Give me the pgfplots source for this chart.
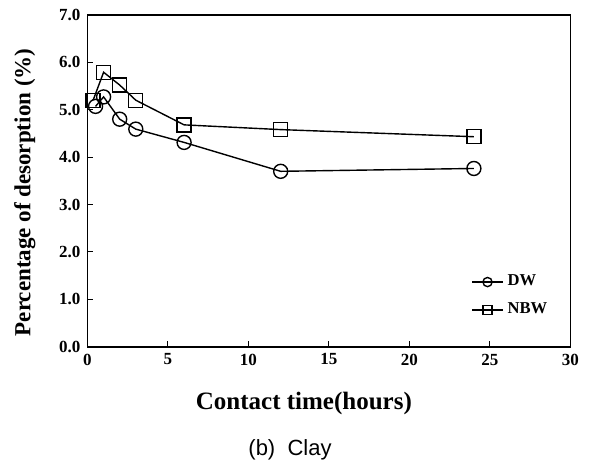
\documentclass[border=0pt]{standalone}
\usepackage{fontspec}
\setmainfont{Liberation Serif}
\setsansfont{Liberation Sans}
\usepackage{pgfplots}
\pgfplotsset{compat=1.18}

\begin{document}
\begin{tikzpicture}
\begin{axis}[
    scale only axis,
    width=241.5pt, height=165.9pt,
    xmin=0, xmax=30, ymin=0, ymax=7,
    xtick={0,5,...,30},
    ytick={0,1,...,7},
    tick align=inside,
    xtick pos=left, ytick pos=left,
    major tick length=3pt,
    axis line style={line width=0.9pt},
    tick style={line width=0.5pt, black},
    ticklabel style={font=\fontsize{8.5pt}{10pt}\selectfont\bfseries},
    /pgf/number format/assume math mode=true,
    yticklabel style={/pgf/number format/.cd, fixed, fixed zerofill, precision=1},
    xticklabel style={/pgf/number format/.cd, fixed, precision=0},
    xlabel={Contact time(hours)},
    ylabel={Percentage of desorption (\%)},
    every axis x label/.style={at={(rel axis cs:0.448,-0.172)}, anchor=center,
        font=\fontsize{12.5pt}{14pt}\selectfont\bfseries},
    every axis y label/.style={at={(rel axis cs:-0.13,0.465)}, anchor=center, rotate=90,
        font=\fontsize{11.5pt}{14pt}\selectfont\bfseries},
    legend style={at={(rel axis cs:0.79,0.235)}, anchor=north west, draw=none, fill=none,
        font=\fontsize{8.3pt}{10pt}\selectfont\bfseries, row sep=3pt, inner sep=1pt},
    legend cell align=left,
    legend image code/.code={
        \draw[mark repeat=2, mark phase=2, #1, mark size=2.3pt] plot coordinates {(0cm,0cm) (0.27cm,0cm) (0.54cm,0cm)};
    },
]
\addplot[black, line width=0.7pt, mark=o, mark size=3.5pt, mark options={fill=white, line width=0.7pt}]
  coordinates {(0.5,5.07) (1,5.27) (2,4.80) (3,4.59) (6,4.31) (12,3.70) (24,3.76)};
\addlegendentry{DW}
\addplot[black, line width=0.7pt, mark=square, mark size=3.5pt, mark options={fill=white, line width=0.7pt}]
  coordinates {(0.35,5.20) (1,5.79) (2,5.52) (3,5.20) (6,4.68) (12,4.58) (24,4.43)};
\addlegendentry{NBW}
\coordinate (o) at (rel axis cs:0,0);
\end{axis}
\node[font=\fontsize{11pt}{13pt}\selectfont\sffamily, anchor=center] at ([shift={(101.25pt,-51.65pt)}]o) {(b)\ \ Clay};
\pgfresetboundingbox
\path[shift={(o)}] (-43.75pt,-59.65pt) rectangle (251.75pt,173.35pt);
\end{tikzpicture}
\end{document}
